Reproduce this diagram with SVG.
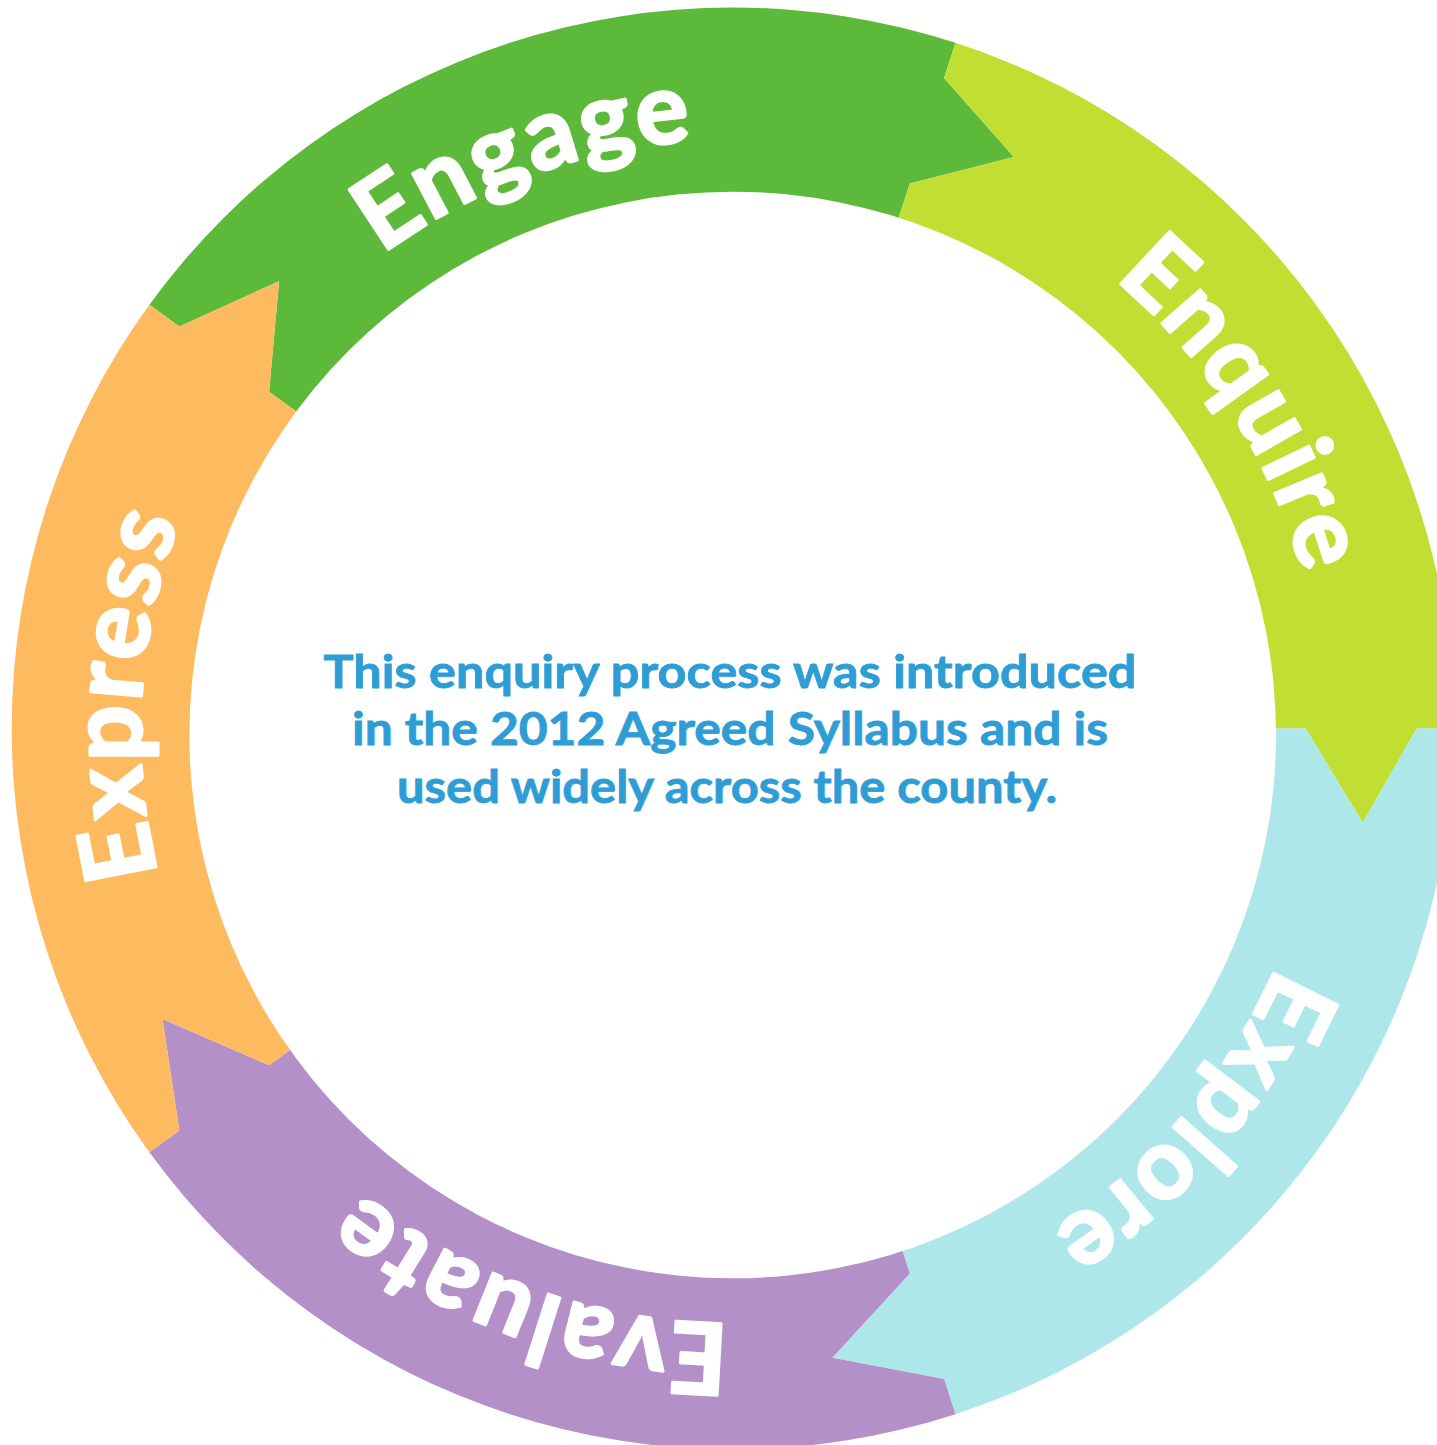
<svg xmlns="http://www.w3.org/2000/svg" xmlns:xlink="http://www.w3.org/1999/xlink" width="1437" height="1445" viewBox="0 0 1437 1445">
  <defs>
    <style>
      .lbl { font-family: Lato, "Open Sans", "Liberation Sans", sans-serif; font-weight: 700; font-size: 99px; fill: #ffffff; stroke: #ffffff; stroke-width: 3px; stroke-linejoin: round; letter-spacing: 3px; }
      .body { font-family: Lato, "Liberation Sans", sans-serif; font-weight: 700; font-size: 46px; fill: #2E9DD6; stroke: #2E9DD6; stroke-width: 0.8px; }
    </style>
    <path id="ring" d="M 220.0 435.5 A 592 592 0 1 1 1245.4 1027.5 A 592 592 0 1 1 220.0 435.5"/>
  </defs>
  <rect width="1437" height="1445" fill="#ffffff"/>
  <g id="segments">
    <g id="engage">
      <path fill="#5DB93A" d="M 732.7 728.5 L 269.1 391.7 L 279.1 281.2 L 179.3 326.5 L 149.4 304.7 A 721 721 0 0 1 955.5 42.8 L 944.1 78.0 L 1013.9 156.9 L 909.8 183.5 Z"/>
    </g>
    <g id="enquire">
      <path fill="#C0DF32" d="M 732.7 728.5 L 909.8 183.5 L 1013.9 156.9 L 944.1 78.0 L 955.5 42.8 A 721 721 0 0 1 1453.7 728.5 L 1416.7 728.5 L 1362.7 822.7 L 1305.7 728.5 Z"/>
    </g>
    <g id="explore">
      <path fill="#ADE7EA" d="M 732.7 728.5 L 1305.7 728.5 L 1362.7 822.7 L 1416.7 728.5 L 1453.7 728.5 A 721 721 0 0 1 955.5 1414.2 L 944.1 1379.0 L 832.3 1357.7 L 909.8 1273.5 Z"/>
    </g>
    <g id="evaluate">
      <path fill="#B390C8" d="M 732.7 728.5 L 909.8 1273.5 L 832.3 1357.7 L 944.1 1379.0 L 955.5 1414.2 A 721 721 0 0 1 149.4 1152.3 L 179.3 1130.5 L 162.5 1019.1 L 269.1 1065.3 Z"/>
    </g>
    <g id="express">
      <path fill="#FEBA5E" d="M 732.7 728.5 L 269.1 1065.3 L 162.5 1019.1 L 179.3 1130.5 L 149.4 1152.3 A 721 721 0 0 1 149.4 304.7 L 179.3 326.5 L 279.1 281.2 L 269.1 391.7 Z"/>
    </g>
  </g>
  <g id="hub">
    <circle cx="732.7" cy="735" r="543.3" fill="#ffffff"/>
    <text class="body" x="730" y="688" text-anchor="middle" textLength="813" lengthAdjust="spacingAndGlyphs">This enquiry process was introduced</text>
    <text class="body" x="730" y="745" text-anchor="middle" textLength="756" lengthAdjust="spacingAndGlyphs">in the 2012 Agreed Syllabus and is</text>
    <text class="body" x="727" y="803" text-anchor="middle" textLength="660" lengthAdjust="spacingAndGlyphs">used widely across the county.</text>
  </g>
  <g id="labels">
    <text class="lbl" text-anchor="middle"><textPath xlink:href="#ring" href="#ring" startOffset="413.3">Engage</textPath></text>
    <text class="lbl" text-anchor="middle"><textPath xlink:href="#ring" href="#ring" startOffset="1214">Enquire</textPath></text>
    <text class="lbl" text-anchor="middle"><textPath xlink:href="#ring" href="#ring" startOffset="1968.3">Explore</textPath></text>
    <text class="lbl" text-anchor="middle"><textPath xlink:href="#ring" href="#ring" startOffset="2683">Evaluate</textPath></text>
    <text class="lbl" text-anchor="middle"><textPath xlink:href="#ring" href="#ring" startOffset="3445.7">Express</textPath></text>
  </g>
  <g id="connectors"></g>
</svg>
